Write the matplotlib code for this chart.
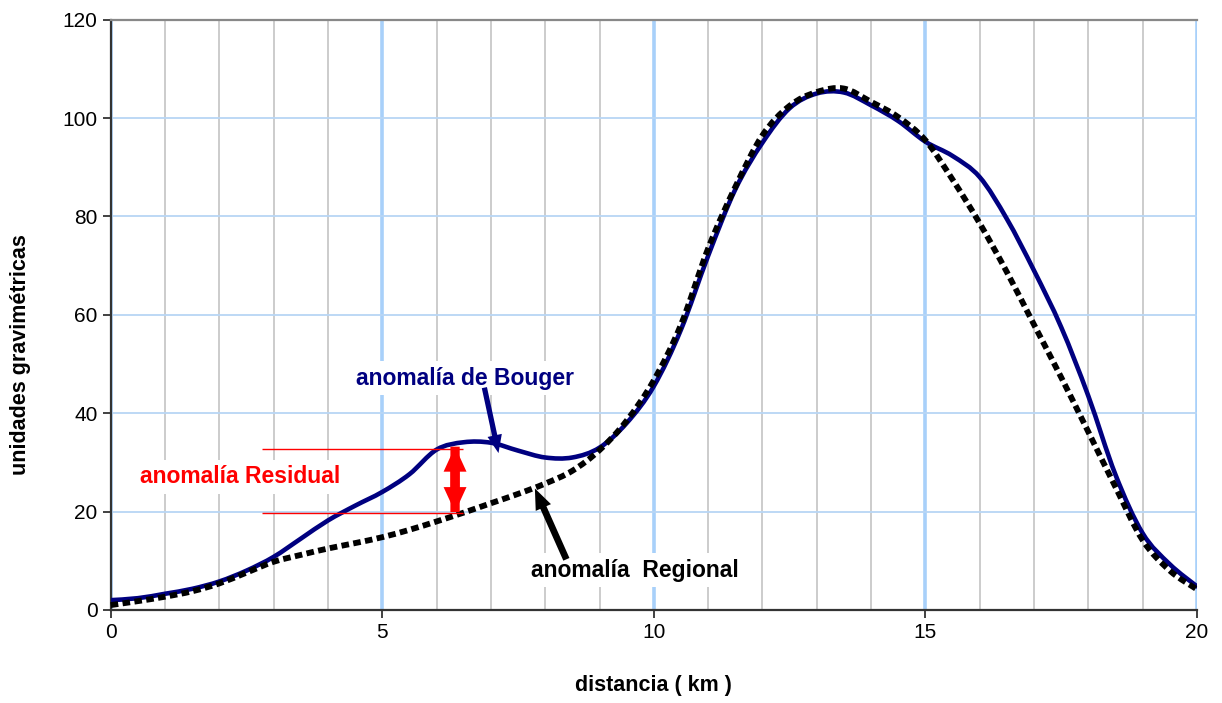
import matplotlib
matplotlib.use("Agg")
import matplotlib.pyplot as plt
import numpy as np
from matplotlib.path import Path
from matplotlib.patches import PathPatch
from matplotlib.ticker import MultipleLocator

plt.rcParams['font.family'] = ['Liberation Sans', 'DejaVu Sans']

# distancia (km) cada 0.5 km
distancia = [0, 0.5, 1, 1.5, 2, 2.5, 3, 3.5, 4, 4.5, 5, 5.5, 6, 6.5, 7, 7.5,
             8, 8.5, 9, 9.5, 10, 10.5, 11, 11.5, 12, 12.5, 13, 13.5, 14, 14.5,
             15, 15.5, 16, 16.5, 17, 17.5, 18, 18.5, 19, 19.5, 20]
bouguer = [2.0, 2.4, 3.3, 4.3, 5.8, 8.0, 10.8, 14.5, 18.2, 21.2, 24.0, 27.6,
           32.6, 34.1, 34.0, 32.4, 31.0, 31.0, 33.0, 38.0, 45.5, 57.0, 72.0,
           85.5, 95.0, 102.0, 105.0, 105.2, 102.6, 99.4, 95.2, 92.3, 88.0,
           79.5, 69.0, 57.5, 43.5, 27.5, 15.6, 9.3, 4.8]
regional = [1.0, 1.8, 2.7, 3.8, 5.4, 7.6, 9.8, 11.2, 12.5, 13.6, 14.8, 16.3,
            18.0, 19.8, 21.7, 23.6, 25.7, 28.3, 32.5, 38.5, 46.7, 58.0, 73.5,
            86.0, 96.5, 102.5, 105.3, 106.0, 103.3, 100.2, 95.5, 87.5, 78.6,
            68.7, 58.0, 47.3, 36.2, 25.0, 14.2, 8.0, 4.2]

xticks = [0, 5, 10, 15, 20]
yticks = [0, 20, 40, 60, 80, 100, 120]


def suave(x, y):
    # linea suavizada (como Excel): bezier que pasa por los puntos
    p = np.column_stack([x, y]).astype(float)
    verts = [p[0]]
    codes = [Path.MOVETO]
    n = len(p)
    for i in range(n - 1):
        p0 = p[max(i - 1, 0)]
        p1, p2 = p[i], p[i + 1]
        p3 = p[min(i + 2, n - 1)]
        verts += [p1 + (p2 - p0) / 6, p2 - (p3 - p1) / 6, p2]
        codes += [Path.CURVE4] * 3
    return Path(verts, codes)


fig = plt.figure(figsize=(12.22, 7.03), dpi=100)
ax = fig.add_axes([0.0906, 0.1323, 0.8889, 0.8397])

ax.add_patch(PathPatch(suave(distancia, bouguer), fill=False, edgecolor='#000080',
                       lw=3.3, zorder=3, capstyle='round', joinstyle='round'))
reg = PathPatch(suave(distancia, regional), fill=False, edgecolor='black',
                lw=4.2, ls=(0, (1.3, 0.75)), zorder=4, clip_on=False)
reg.set_capstyle('butt')
ax.add_patch(reg)

ax.set_xlim(0, 20)
ax.set_ylim(0, 120)
ax.set_xticks(xticks)
ax.set_yticks(yticks)
ax.xaxis.set_minor_locator(MultipleLocator(1))
ax.tick_params(which='minor', length=0)
ax.tick_params(which='major', labelsize=15, length=6, width=1.3, color='#333333', direction='out')

ax.grid(which='minor', axis='x', color='#c4c4c4', lw=1.2, zorder=0)
ax.grid(which='major', axis='x', color='#a8d0fa', lw=2.6, zorder=0)
ax.grid(which='major', axis='y', color='#b8d6f5', lw=1.3, zorder=0)
ax.set_axisbelow(True)

ax.spines['right'].set_visible(False)
ax.spines['top'].set_color('#888888')
ax.spines['top'].set_linewidth(1.6)
for s in ('left', 'bottom'):
    ax.spines[s].set_color('#333333')
    ax.spines[s].set_linewidth(1.6)

ax.set_xlabel('distancia ( km )', fontsize=15.5, fontweight='bold')
ax.set_ylabel('unidades gravimétricas', fontsize=15.5, fontweight='bold')
ax.xaxis.set_label_coords(0.5, -0.11)
ax.yaxis.set_label_coords(-0.073, 0.432)

box = dict(facecolor='white', edgecolor='none', pad=4)


def flecha(desde, hasta, color, hl, hw, tw):
    ax.annotate('', xy=hasta, xytext=desde,
                arrowprops=dict(arrowstyle=f'simple,head_length={hl},head_width={hw},tail_width={tw}',
                                color=color, lw=0, mutation_scale=1,
                                shrinkA=0, shrinkB=0), zorder=6)


# anomalía residual
ax.hlines([32.7, 19.65], 2.78, 6.49, color='red', lw=1.0, zorder=5)
flecha((6.34, 19.9), (6.34, 33.2), 'red', 18, 16.5, 6.7)
flecha((6.34, 33.2), (6.34, 19.9), 'red', 18, 16.5, 6.7)
ax.text(2.38, 27.1, 'anomalía Residual', color='red', fontsize=16.5,
        fontweight='bold', ha='center', va='center', bbox=box, zorder=2)

# anomalía de Bouger
ax.text(6.53, 47.1, 'anomalía de Bouger', color='#000080', fontsize=16.5,
        fontweight='bold', ha='center', va='center', bbox=box, zorder=2)
flecha((6.88, 45.2), (7.14, 31.9), '#000080', 13, 10.5, 3.8)

# anomalía regional
ax.text(9.66, 8.1, 'anomalía  Regional', color='black', fontsize=16.5,
        fontweight='bold', ha='center', va='center', bbox=box, zorder=2)
flecha((8.39, 10.3), (7.81, 24.7), 'black', 15, 12, 4.8)

fig.savefig('out.png', dpi=100)
